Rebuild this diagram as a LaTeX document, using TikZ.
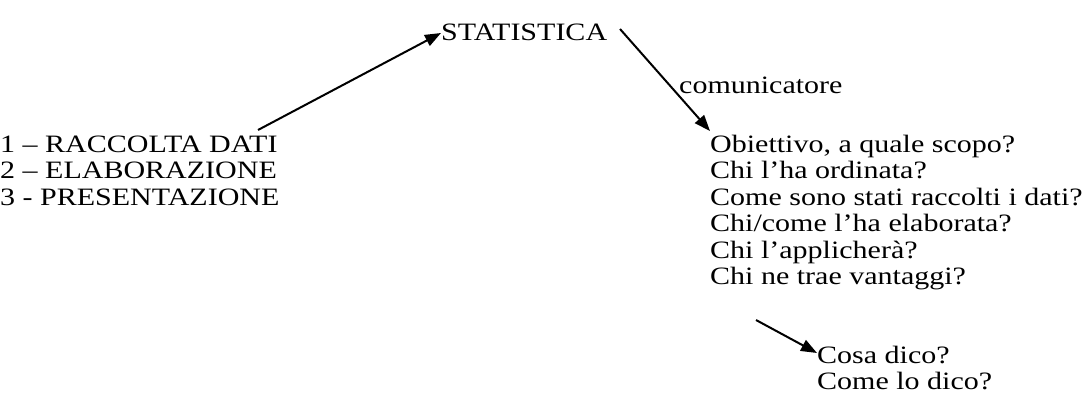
\documentclass[tikz,border=0pt]{standalone}
\usepackage{fontspec}
\setmainfont[FakeStretch=1.2]{Liberation Serif}
\usetikzlibrary{arrows.meta,positioning}
\tikzstyle{txt}=[inner sep=0pt,anchor=base west,font=\fontsize{25}{26}\selectfont]
\tikzstyle{link}=[line width=2pt,-{Triangle[length=16pt,width=12pt]}]

\begin{document}
\begin{tikzpicture}[x=1pt,y=-1pt]
\useasboundingbox (0,0) rectangle (1089,417);
\node [txt] (stat) at (441,41) {STATISTICA};
\node [txt] (com) at (679,94) {comunicatore};
% left block
\node [txt] (l1) at (0,152) {1 – RACCOLTA DATI};
\node [txt] (l2) at (0,178.5) {2 – ELABORAZIONE};
\node [txt] (l3) at (0,205) {3 - PRESENTAZIONE};
% right block
\node [txt] (q1) at (710,152) {Obiettivo, a quale scopo?};
\node [txt] (q2) at (710,178.5) {Chi l’ha ordinata?};
\node [txt] (q3) at (710,205) {Come sono stati raccolti i dati?};
\node [txt] (q4) at (710,231.5) {Chi/come l’ha elaborata?};
\node [txt] (q5) at (710,258) {Chi l’applicherà?};
\node [txt] (q6) at (710,284.5) {Chi ne trae vantaggi?};
\node [txt] (c1) at (817,363) {Cosa dico?};
\node [txt] (c2) at (817,389.5) {Come lo dico?};
% arrows
\coordinate (s1) at (258,130);
\coordinate (s2) at (620,29);
\coordinate (s3) at (756,320);
\draw [link] (s1) -- ([yshift=8pt]stat.base west);
\draw [link] (s2) -- ([yshift=21pt]q1.base west);
\draw [link] (s3) -- ([yshift=10pt]c1.base west);
\end{tikzpicture}
\end{document}
